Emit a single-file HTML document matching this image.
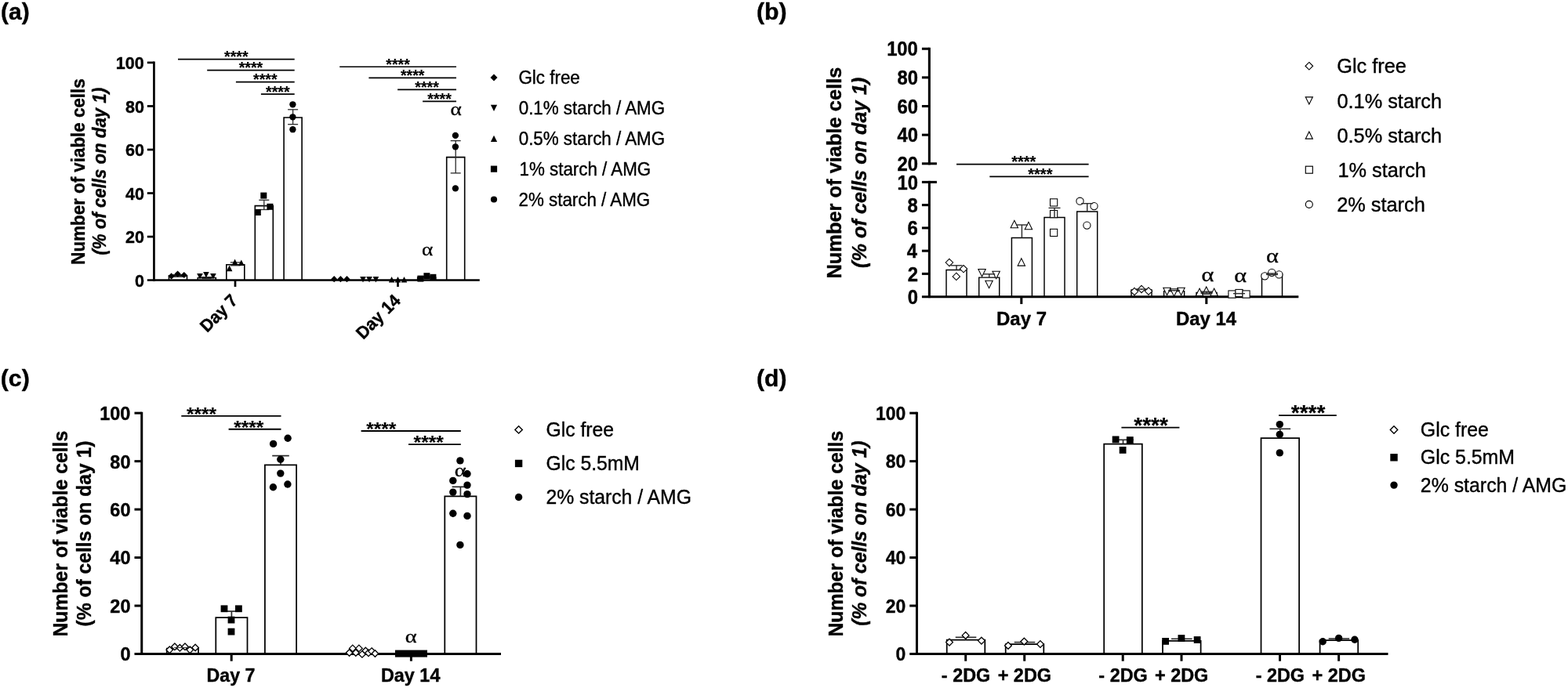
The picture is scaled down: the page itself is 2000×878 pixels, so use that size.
<!DOCTYPE html>
<html lang="en">
<head>
<meta charset="utf-8">
<title>Figure</title>
<style>
html,body{margin:0;padding:0;background:#fff;}
body{width:2000px;height:878px;overflow:hidden;}
svg{display:block;}
text{fill:#000;white-space:pre;}
.ss{font-family:'Liberation Sans',sans-serif;}
.sf{font-family:'Liberation Serif',serif;}
.b{font-weight:bold;}
.n{font-weight:normal;}
</style>
</head>
<body>
<svg width="2000" height="878" viewBox="0 0 2000 878" role="img" aria-label="Number of viable cells bar charts, panels a to d">
<rect x="0" y="0" width="2000" height="878" fill="#fff"/>
<text class="ss b" font-size="29.3" stroke="#000" stroke-width="0.4" stroke-linejoin="round" transform="translate(1.1 24.6) scale(1.0239 1)">(a)</text>
<text class="ss b" font-size="29.3" stroke="#000" stroke-width="0.4" stroke-linejoin="round" transform="translate(964.89 24.8) scale(1.0341 1)">(b)</text>
<text class="ss b" font-size="29" stroke="#000" stroke-width="0.4" stroke-linejoin="round" transform="translate(0.68 493.1) scale(1.0468 1)">(c)</text>
<text class="ss b" font-size="29" stroke="#000" stroke-width="0.4" stroke-linejoin="round" transform="translate(965.1 493.1) scale(1.0360 1)">(d)</text>
<line x1="196.45" y1="78.55" x2="196.45" y2="358.95" stroke="#000" stroke-width="2.7" stroke-linecap="butt"/>
<line x1="187.8" y1="357.6" x2="611.8" y2="357.6" stroke="#000" stroke-width="2.5" stroke-linecap="butt"/>
<text class="ss b" font-size="22.3" stroke="#000" stroke-width="0.4" stroke-linejoin="round" transform="translate(171.88 365.75) scale(0.9680 1)">0</text>
<line x1="187.8" y1="302.06" x2="196.45" y2="302.06" stroke="#000" stroke-width="2.7" stroke-linecap="butt"/>
<text class="ss b" font-size="22.3" stroke="#000" stroke-width="0.4" stroke-linejoin="round" transform="translate(159.9 310.21) scale(0.9680 1)">20</text>
<line x1="187.8" y1="246.52" x2="196.45" y2="246.52" stroke="#000" stroke-width="2.7" stroke-linecap="butt"/>
<text class="ss b" font-size="22.3" stroke="#000" stroke-width="0.4" stroke-linejoin="round" transform="translate(159.9 254.67) scale(0.9680 1)">40</text>
<line x1="187.8" y1="190.98" x2="196.45" y2="190.98" stroke="#000" stroke-width="2.7" stroke-linecap="butt"/>
<text class="ss b" font-size="22.3" stroke="#000" stroke-width="0.4" stroke-linejoin="round" transform="translate(159.9 199.13) scale(0.9680 1)">60</text>
<line x1="187.8" y1="135.44" x2="196.45" y2="135.44" stroke="#000" stroke-width="2.7" stroke-linecap="butt"/>
<text class="ss b" font-size="22.3" stroke="#000" stroke-width="0.4" stroke-linejoin="round" transform="translate(159.9 143.59) scale(0.9680 1)">80</text>
<line x1="187.8" y1="79.9" x2="196.45" y2="79.9" stroke="#000" stroke-width="2.7" stroke-linecap="butt"/>
<text class="ss b" font-size="22.3" stroke="#000" stroke-width="0.4" stroke-linejoin="round" transform="translate(147.81 88.05) scale(0.9680 1)">100</text>
<line x1="300" y1="357.6" x2="300" y2="366" stroke="#000" stroke-width="2.7" stroke-linecap="butt"/>
<line x1="507.5" y1="357.6" x2="507.5" y2="366" stroke="#000" stroke-width="2.7" stroke-linecap="butt"/>
<text class="ss b" font-size="23.4" stroke="#000" stroke-width="0.4" stroke-linejoin="round" transform="translate(107.9 337.65) rotate(-90) scale(0.9566 1)">Number of viable cells</text>
<text class="ss b" font-size="23.4" font-style="italic" stroke="#000" stroke-width="0.4" stroke-linejoin="round" transform="translate(135.3 325.58) rotate(-90) scale(0.9502 1)">(% of cells on day 1)</text>
<text class="ss b" font-size="22.3" stroke="#000" stroke-width="0.4" stroke-linejoin="round" transform="translate(264.22 425.08) rotate(-45) scale(0.9550 1)">Day 7</text>
<text class="ss b" font-size="22.3" stroke="#000" stroke-width="0.4" stroke-linejoin="round" transform="translate(463.13 433.97) rotate(-45) scale(0.9650 1)">Day 14</text>
<path d="M215.5 357.6V351.9H238.5V357.6" fill="none" stroke="#000" stroke-width="1.6" stroke-linejoin="miter"/>
<path d="M252.3 357.6V354.5H275.3V357.6" fill="none" stroke="#000" stroke-width="1.6" stroke-linejoin="miter"/>
<path d="M288.8 357.6V337.8H311.8V357.6" fill="none" stroke="#000" stroke-width="1.6" stroke-linejoin="miter"/>
<path d="M325.3 357.6V262.6H348.3V357.6" fill="none" stroke="#000" stroke-width="1.6" stroke-linejoin="miter"/>
<path d="M362.1 357.6V150H385.1V357.6" fill="none" stroke="#000" stroke-width="1.6" stroke-linejoin="miter"/>
<path d="M569.7 357.6V200.6H592.7V357.6" fill="none" stroke="#000" stroke-width="1.6" stroke-linejoin="miter"/>
<path d="M532.7 357.6V354H555.7V357.6" fill="none" stroke="#000" stroke-width="1.6" stroke-linejoin="miter"/>
<line x1="220.5" y1="350.6" x2="233.5" y2="350.6" stroke="#2a2a2a" stroke-width="1.3" stroke-linecap="butt"/>
<line x1="227" y1="350.6" x2="227" y2="353.2" stroke="#2a2a2a" stroke-width="1.3" stroke-linecap="butt"/>
<line x1="220.5" y1="353.2" x2="233.5" y2="353.2" stroke="#2a2a2a" stroke-width="1.3" stroke-linecap="butt"/>
<line x1="257.3" y1="353.6" x2="270.3" y2="353.6" stroke="#2a2a2a" stroke-width="1.3" stroke-linecap="butt"/>
<line x1="263.8" y1="353.6" x2="263.8" y2="355.4" stroke="#2a2a2a" stroke-width="1.3" stroke-linecap="butt"/>
<line x1="257.3" y1="355.4" x2="270.3" y2="355.4" stroke="#2a2a2a" stroke-width="1.3" stroke-linecap="butt"/>
<line x1="293.8" y1="334.9" x2="306.8" y2="334.9" stroke="#2a2a2a" stroke-width="1.3" stroke-linecap="butt"/>
<line x1="300.3" y1="334.9" x2="300.3" y2="338.8" stroke="#2a2a2a" stroke-width="1.3" stroke-linecap="butt"/>
<line x1="293.8" y1="338.8" x2="306.8" y2="338.8" stroke="#2a2a2a" stroke-width="1.3" stroke-linecap="butt"/>
<line x1="330.3" y1="255.3" x2="343.3" y2="255.3" stroke="#2a2a2a" stroke-width="1.3" stroke-linecap="butt"/>
<line x1="336.8" y1="255.3" x2="336.8" y2="267.5" stroke="#2a2a2a" stroke-width="1.3" stroke-linecap="butt"/>
<line x1="330.3" y1="267.5" x2="343.3" y2="267.5" stroke="#2a2a2a" stroke-width="1.3" stroke-linecap="butt"/>
<line x1="367.1" y1="139.8" x2="380.1" y2="139.8" stroke="#2a2a2a" stroke-width="1.3" stroke-linecap="butt"/>
<line x1="373.6" y1="139.8" x2="373.6" y2="158.7" stroke="#2a2a2a" stroke-width="1.3" stroke-linecap="butt"/>
<line x1="367.1" y1="158.7" x2="380.1" y2="158.7" stroke="#2a2a2a" stroke-width="1.3" stroke-linecap="butt"/>
<line x1="574.7" y1="179.6" x2="587.7" y2="179.6" stroke="#2a2a2a" stroke-width="1.3" stroke-linecap="butt"/>
<line x1="581.2" y1="179.6" x2="581.2" y2="220.9" stroke="#2a2a2a" stroke-width="1.3" stroke-linecap="butt"/>
<line x1="574.7" y1="220.9" x2="587.7" y2="220.9" stroke="#2a2a2a" stroke-width="1.3" stroke-linecap="butt"/>
<line x1="537.7" y1="352.6" x2="550.7" y2="352.6" stroke="#2a2a2a" stroke-width="1.3" stroke-linecap="butt"/>
<line x1="544.2" y1="352.6" x2="544.2" y2="355" stroke="#2a2a2a" stroke-width="1.3" stroke-linecap="butt"/>
<line x1="537.7" y1="355" x2="550.7" y2="355" stroke="#2a2a2a" stroke-width="1.3" stroke-linecap="butt"/>
<path d="M218.6 348.3L222.7 352.4L218.6 356.5L214.5 352.4Z" fill="#000"/>
<path d="M226.6 345.4L230.7 349.5L226.6 353.6L222.5 349.5Z" fill="#000"/>
<path d="M234.8 346.9L238.9 351L234.8 355.1L230.7 351Z" fill="#000"/>
<path d="M255 356.6L258.8 349L251.2 349Z" fill="#000"/>
<path d="M262.9 354.6L266.7 347L259.1 347Z" fill="#000"/>
<path d="M271.9 356.6L275.7 349L268.1 349Z" fill="#000"/>
<path d="M292.6 338.6L296.4 346.2L288.8 346.2Z" fill="#000"/>
<path d="M299.6 330.6L303.4 338.2L295.8 338.2Z" fill="#000"/>
<path d="M307.8 331.4L311.6 339L304 339Z" fill="#000"/>
<rect x="332.3" y="245.6" width="8" height="8" fill="#000"/>
<rect x="340.4" y="259.8" width="8" height="8" fill="#000"/>
<rect x="324.8" y="267" width="8" height="8" fill="#000"/>
<circle cx="373.4" cy="133.3" r="4.15" fill="#000"/>
<circle cx="373.4" cy="149.3" r="4.15" fill="#000"/>
<circle cx="373.4" cy="165.2" r="4.15" fill="#000"/>
<path d="M426.2 352.1L430.3 356.2L426.2 360.3L422.1 356.2Z" fill="#000"/>
<path d="M434.4 352.1L438.5 356.2L434.4 360.3L430.3 356.2Z" fill="#000"/>
<path d="M442.5 352.1L446.6 356.2L442.5 360.3L438.4 356.2Z" fill="#000"/>
<path d="M463 360.6L466.8 353L459.2 353Z" fill="#000"/>
<path d="M471 360.6L474.8 353L467.2 353Z" fill="#000"/>
<path d="M479.4 360.6L483.2 353L475.6 353Z" fill="#000"/>
<path d="M499.6 353L503.4 360.6L495.8 360.6Z" fill="#000"/>
<path d="M507.5 353L511.3 360.6L503.7 360.6Z" fill="#000"/>
<path d="M515.5 353L519.3 360.6L511.7 360.6Z" fill="#000"/>
<rect x="532.4" y="351.6" width="8" height="8" fill="#000"/>
<rect x="540.4" y="348.2" width="8" height="8" fill="#000"/>
<rect x="548.4" y="349.8" width="8" height="8" fill="#000"/>
<circle cx="580.9" cy="172.9" r="4.15" fill="#000"/>
<circle cx="580.9" cy="187.3" r="4.15" fill="#000"/>
<circle cx="580.9" cy="240.4" r="4.15" fill="#000"/>
<text class="sf n" font-size="22.66" stroke="#000" stroke-width="0.3" stroke-linejoin="round" transform="translate(537.88 326.2) scale(1.2000 1)">α</text>
<text class="sf n" font-size="22.66" stroke="#000" stroke-width="0.3" stroke-linejoin="round" transform="translate(574.58 146.6) scale(1.2000 1)">α</text>
<line x1="227" y1="75.55" x2="375.7" y2="75.55" stroke="#000" stroke-width="1.7" stroke-linecap="butt"/>
<text class="ss b" font-size="19.6" stroke="#000" stroke-width="0.15" stroke-linejoin="round" transform="translate(286.09 79.2)">****</text>
<line x1="264.2" y1="89.55" x2="375.7" y2="89.55" stroke="#000" stroke-width="1.7" stroke-linecap="butt"/>
<text class="ss b" font-size="19.6" stroke="#000" stroke-width="0.15" stroke-linejoin="round" transform="translate(304.69 93.2)">****</text>
<line x1="300.9" y1="104.65" x2="375.7" y2="104.65" stroke="#000" stroke-width="1.7" stroke-linecap="butt"/>
<text class="ss b" font-size="19.6" stroke="#000" stroke-width="0.15" stroke-linejoin="round" transform="translate(323.04 108.3)">****</text>
<line x1="332.9" y1="120.15" x2="375.7" y2="120.15" stroke="#000" stroke-width="1.7" stroke-linecap="butt"/>
<text class="ss b" font-size="19.6" stroke="#000" stroke-width="0.15" stroke-linejoin="round" transform="translate(339.04 123.8)">****</text>
<line x1="433.2" y1="85.25" x2="582" y2="85.25" stroke="#000" stroke-width="1.7" stroke-linecap="butt"/>
<text class="ss b" font-size="19.6" stroke="#000" stroke-width="0.15" stroke-linejoin="round" transform="translate(492.34 88.9)">****</text>
<line x1="470.4" y1="99.35" x2="582" y2="99.35" stroke="#000" stroke-width="1.7" stroke-linecap="butt"/>
<text class="ss b" font-size="19.6" stroke="#000" stroke-width="0.15" stroke-linejoin="round" transform="translate(510.94 103)">****</text>
<line x1="507.1" y1="114.35" x2="582" y2="114.35" stroke="#000" stroke-width="1.7" stroke-linecap="butt"/>
<text class="ss b" font-size="19.6" stroke="#000" stroke-width="0.15" stroke-linejoin="round" transform="translate(529.29 118)">****</text>
<line x1="539.1" y1="129.45" x2="582" y2="129.45" stroke="#000" stroke-width="1.7" stroke-linecap="butt"/>
<text class="ss b" font-size="19.6" stroke="#000" stroke-width="0.15" stroke-linejoin="round" transform="translate(545.29 133.1)">****</text>
<path d="M630 94.6L634.5 99.1L630 103.6L625.5 99.1Z" fill="#000"/>
<text class="ss n" font-size="23.8" stroke="#000" stroke-width="0.4" stroke-linejoin="round" transform="translate(661.48 107.4) scale(0.9400 1)">Glc free</text>
<path d="M630 142.05L634.1 133.85L625.9 133.85Z" fill="#000"/>
<text class="ss n" font-size="23.8" stroke="#000" stroke-width="0.4" stroke-linejoin="round" transform="translate(661.71 146.25) scale(0.9400 1)">0.1% starch / AMG</text>
<path d="M630 172.7L634.1 180.9L625.9 180.9Z" fill="#000"/>
<text class="ss n" font-size="23.8" stroke="#000" stroke-width="0.4" stroke-linejoin="round" transform="translate(661.71 185.1) scale(0.9400 1)">0.5% starch / AMG</text>
<rect x="625.9" y="211.55" width="8.2" height="8.2" fill="#000"/>
<text class="ss n" font-size="23.8" stroke="#000" stroke-width="0.4" stroke-linejoin="round" transform="translate(662.52 223.95) scale(0.9400 1)">1% starch / AMG</text>
<circle cx="630" cy="254.5" r="4.1" fill="#000"/>
<text class="ss n" font-size="23.8" stroke="#000" stroke-width="0.4" stroke-linejoin="round" transform="translate(661.48 262.8) scale(0.9400 1)">2% starch / AMG</text>
<line x1="1185.35" y1="230.88" x2="1185.35" y2="380.17" stroke="#000" stroke-width="3.05" stroke-linecap="butt"/>
<line x1="1175.9" y1="378.65" x2="1656.3" y2="378.65" stroke="#000" stroke-width="3.05" stroke-linecap="butt"/>
<line x1="1185.35" y1="60.73" x2="1185.35" y2="210.33" stroke="#000" stroke-width="3.05" stroke-linecap="butt"/>
<text class="ss b" font-size="24.9" stroke="#000" stroke-width="0.4" stroke-linejoin="round" transform="translate(1157.65 387.75) scale(0.9550 1)">0</text>
<line x1="1175.9" y1="349.4" x2="1185.35" y2="349.4" stroke="#000" stroke-width="3.05" stroke-linecap="butt"/>
<text class="ss b" font-size="24.9" stroke="#000" stroke-width="0.4" stroke-linejoin="round" transform="translate(1157.65 358.5) scale(0.9550 1)">2</text>
<line x1="1175.9" y1="320.15" x2="1185.35" y2="320.15" stroke="#000" stroke-width="3.05" stroke-linecap="butt"/>
<text class="ss b" font-size="24.9" stroke="#000" stroke-width="0.4" stroke-linejoin="round" transform="translate(1156.82 329.25) scale(0.9550 1)">4</text>
<line x1="1175.9" y1="290.9" x2="1185.35" y2="290.9" stroke="#000" stroke-width="3.05" stroke-linecap="butt"/>
<text class="ss b" font-size="24.9" stroke="#000" stroke-width="0.4" stroke-linejoin="round" transform="translate(1157.53 300) scale(0.9550 1)">6</text>
<line x1="1175.9" y1="261.65" x2="1185.35" y2="261.65" stroke="#000" stroke-width="3.05" stroke-linecap="butt"/>
<text class="ss b" font-size="24.9" stroke="#000" stroke-width="0.4" stroke-linejoin="round" transform="translate(1157.42 270.75) scale(0.9550 1)">8</text>
<line x1="1175.9" y1="232.4" x2="1194.9" y2="232.4" stroke="#000" stroke-width="3.05" stroke-linecap="butt"/>
<text class="ss b" font-size="24.9" stroke="#000" stroke-width="0.4" stroke-linejoin="round" transform="translate(1144.46 241.5) scale(0.9550 1)">10</text>
<line x1="1175.9" y1="208.8" x2="1194.9" y2="208.8" stroke="#000" stroke-width="3.05" stroke-linecap="butt"/>
<text class="ss b" font-size="24.9" stroke="#000" stroke-width="0.4" stroke-linejoin="round" transform="translate(1144.46 217.9) scale(0.9550 1)">20</text>
<line x1="1175.9" y1="172.16" x2="1185.35" y2="172.16" stroke="#000" stroke-width="3.05" stroke-linecap="butt"/>
<text class="ss b" font-size="24.9" stroke="#000" stroke-width="0.4" stroke-linejoin="round" transform="translate(1144.46 181.26) scale(0.9550 1)">40</text>
<line x1="1175.9" y1="135.53" x2="1185.35" y2="135.53" stroke="#000" stroke-width="3.05" stroke-linecap="butt"/>
<text class="ss b" font-size="24.9" stroke="#000" stroke-width="0.4" stroke-linejoin="round" transform="translate(1144.46 144.62) scale(0.9550 1)">60</text>
<line x1="1175.9" y1="98.89" x2="1185.35" y2="98.89" stroke="#000" stroke-width="3.05" stroke-linecap="butt"/>
<text class="ss b" font-size="24.9" stroke="#000" stroke-width="0.4" stroke-linejoin="round" transform="translate(1144.46 107.99) scale(0.9550 1)">80</text>
<line x1="1175.9" y1="62.25" x2="1185.35" y2="62.25" stroke="#000" stroke-width="3.05" stroke-linecap="butt"/>
<text class="ss b" font-size="24.9" stroke="#000" stroke-width="0.4" stroke-linejoin="round" transform="translate(1131.14 71.35) scale(0.9550 1)">100</text>
<line x1="1302.8" y1="378.65" x2="1302.8" y2="388.05" stroke="#000" stroke-width="3.05" stroke-linecap="butt"/>
<line x1="1538.8" y1="378.65" x2="1538.8" y2="388.05" stroke="#000" stroke-width="3.05" stroke-linecap="butt"/>
<text class="ss b" font-size="24.8" stroke="#000" stroke-width="0.4" stroke-linejoin="round" transform="translate(1271.04 415.45) scale(0.9671 1)">Day 7</text>
<text class="ss b" font-size="24.8" stroke="#000" stroke-width="0.4" stroke-linejoin="round" transform="translate(1500.05 415.45) scale(0.9637 1)">Day 14</text>
<text class="ss b" font-size="26.6" stroke="#000" stroke-width="0.4" stroke-linejoin="round" transform="translate(1073.3 355.6) rotate(-90) scale(0.9570 1)">Number of viable cells</text>
<text class="ss b" font-size="26.6" font-style="italic" stroke="#000" stroke-width="0.4" stroke-linejoin="round" transform="translate(1104.5 341.89) rotate(-90) scale(0.9511 1)">(% of cells on day 1)</text>
<path d="M1207 378.65V344.4H1233V378.65" fill="none" stroke="#000" stroke-width="1.45" stroke-linejoin="miter"/>
<path d="M1248.7 378.65V354.1H1274.7V378.65" fill="none" stroke="#000" stroke-width="1.45" stroke-linejoin="miter"/>
<path d="M1290.4 378.65V303.5H1316.4V378.65" fill="none" stroke="#000" stroke-width="1.45" stroke-linejoin="miter"/>
<path d="M1332 378.65V277.4H1358V378.65" fill="none" stroke="#000" stroke-width="1.45" stroke-linejoin="miter"/>
<path d="M1373.7 378.65V269.9H1399.7V378.65" fill="none" stroke="#000" stroke-width="1.45" stroke-linejoin="miter"/>
<path d="M1443 378.65V370H1469V378.65" fill="none" stroke="#000" stroke-width="1.45" stroke-linejoin="miter"/>
<path d="M1484.6 378.65V371.6H1510.6V378.65" fill="none" stroke="#000" stroke-width="1.45" stroke-linejoin="miter"/>
<path d="M1526 378.65V373.4H1552V378.65" fill="none" stroke="#000" stroke-width="1.45" stroke-linejoin="miter"/>
<path d="M1567.5 378.65V374.6H1593.5V378.65" fill="none" stroke="#000" stroke-width="1.45" stroke-linejoin="miter"/>
<path d="M1609.5 378.65V349.8H1635.5V378.65" fill="none" stroke="#000" stroke-width="1.45" stroke-linejoin="miter"/>
<path d="M1210.9 330.3L1215.6 335L1210.9 339.7L1206.2 335Z" fill="#fff" stroke="#000" stroke-width="1.05" stroke-linejoin="miter"/>
<path d="M1229 338.4L1233.7 343.1L1229 347.8L1224.3 343.1Z" fill="#fff" stroke="#000" stroke-width="1.05" stroke-linejoin="miter"/>
<path d="M1219.8 348.2L1224.5 352.9L1219.8 357.6L1215.1 352.9Z" fill="#fff" stroke="#000" stroke-width="1.05" stroke-linejoin="miter"/>
<path d="M1252.5 352.9L1257.2 343.5L1247.8 343.5Z" fill="#fff" stroke="#000" stroke-width="1.05" stroke-linejoin="miter"/>
<path d="M1270.6 355.7L1275.3 346.3L1265.9 346.3Z" fill="#fff" stroke="#000" stroke-width="1.05" stroke-linejoin="miter"/>
<path d="M1261.5 367.7L1266.2 358.3L1256.8 358.3Z" fill="#fff" stroke="#000" stroke-width="1.05" stroke-linejoin="miter"/>
<path d="M1293.8 281.3L1298.5 290.7L1289.1 290.7Z" fill="#fff" stroke="#000" stroke-width="1.05" stroke-linejoin="miter"/>
<path d="M1311.9 283.3L1316.6 292.7L1307.2 292.7Z" fill="#fff" stroke="#000" stroke-width="1.05" stroke-linejoin="miter"/>
<path d="M1302.8 329.7L1307.5 339.1L1298.1 339.1Z" fill="#fff" stroke="#000" stroke-width="1.05" stroke-linejoin="miter"/>
<rect x="1339.5" y="253.8" width="9.2" height="9.2" fill="#fff" stroke="#000" stroke-width="1.05" stroke-linejoin="miter"/>
<rect x="1339.5" y="268.5" width="9.2" height="9.2" fill="#fff" stroke="#000" stroke-width="1.05" stroke-linejoin="miter"/>
<rect x="1339.5" y="292.3" width="9.2" height="9.2" fill="#fff" stroke="#000" stroke-width="1.05" stroke-linejoin="miter"/>
<circle cx="1377.5" cy="256.7" r="4.6" fill="#fff" stroke="#000" stroke-width="1.05" stroke-linejoin="miter"/>
<circle cx="1395.5" cy="263.1" r="4.6" fill="#fff" stroke="#000" stroke-width="1.05" stroke-linejoin="miter"/>
<circle cx="1386.4" cy="287.6" r="4.6" fill="#fff" stroke="#000" stroke-width="1.05" stroke-linejoin="miter"/>
<path d="M1447 367.3L1451.7 372L1447 376.7L1442.3 372Z" fill="#fff" stroke="#000" stroke-width="1.05" stroke-linejoin="miter"/>
<path d="M1456 364.3L1460.7 369L1456 373.7L1451.3 369Z" fill="#fff" stroke="#000" stroke-width="1.05" stroke-linejoin="miter"/>
<path d="M1465 366.8L1469.7 371.5L1465 376.2L1460.3 371.5Z" fill="#fff" stroke="#000" stroke-width="1.05" stroke-linejoin="miter"/>
<path d="M1488.5 376.7L1493.2 367.3L1483.8 367.3Z" fill="#fff" stroke="#000" stroke-width="1.05" stroke-linejoin="miter"/>
<path d="M1497.5 378.2L1502.2 368.8L1492.8 368.8Z" fill="#fff" stroke="#000" stroke-width="1.05" stroke-linejoin="miter"/>
<path d="M1506.5 376.7L1511.2 367.3L1501.8 367.3Z" fill="#fff" stroke="#000" stroke-width="1.05" stroke-linejoin="miter"/>
<path d="M1530 368.1L1534.7 377.5L1525.3 377.5Z" fill="#fff" stroke="#000" stroke-width="1.05" stroke-linejoin="miter"/>
<path d="M1538.7 365.9L1543.4 375.3L1534 375.3Z" fill="#fff" stroke="#000" stroke-width="1.05" stroke-linejoin="miter"/>
<path d="M1548.6 368.1L1553.3 377.5L1543.9 377.5Z" fill="#fff" stroke="#000" stroke-width="1.05" stroke-linejoin="miter"/>
<rect x="1566.9" y="370.9" width="9.2" height="9.2" fill="#fff" stroke="#000" stroke-width="1.05" stroke-linejoin="miter"/>
<rect x="1575.9" y="369.4" width="9.2" height="9.2" fill="#fff" stroke="#000" stroke-width="1.05" stroke-linejoin="miter"/>
<rect x="1584.9" y="370.9" width="9.2" height="9.2" fill="#fff" stroke="#000" stroke-width="1.05" stroke-linejoin="miter"/>
<circle cx="1613.3" cy="352.3" r="4.6" fill="#fff" stroke="#000" stroke-width="1.05" stroke-linejoin="miter"/>
<circle cx="1622.2" cy="347.8" r="4.6" fill="#fff" stroke="#000" stroke-width="1.05" stroke-linejoin="miter"/>
<circle cx="1631.4" cy="350.4" r="4.6" fill="#fff" stroke="#000" stroke-width="1.05" stroke-linejoin="miter"/>
<line x1="1212.5" y1="338.8" x2="1227.5" y2="338.8" stroke="#2a2a2a" stroke-width="1.4" stroke-linecap="butt"/>
<line x1="1220" y1="338.8" x2="1220" y2="344.4" stroke="#2a2a2a" stroke-width="1.4" stroke-linecap="butt"/>
<line x1="1254.2" y1="349.8" x2="1269.2" y2="349.8" stroke="#2a2a2a" stroke-width="1.4" stroke-linecap="butt"/>
<line x1="1261.7" y1="349.8" x2="1261.7" y2="354.1" stroke="#2a2a2a" stroke-width="1.4" stroke-linecap="butt"/>
<line x1="1295.9" y1="287" x2="1310.9" y2="287" stroke="#2a2a2a" stroke-width="1.4" stroke-linecap="butt"/>
<line x1="1303.4" y1="287" x2="1303.4" y2="303.5" stroke="#2a2a2a" stroke-width="1.4" stroke-linecap="butt"/>
<line x1="1337.5" y1="265.4" x2="1352.5" y2="265.4" stroke="#2a2a2a" stroke-width="1.4" stroke-linecap="butt"/>
<line x1="1345" y1="265.4" x2="1345" y2="277.4" stroke="#2a2a2a" stroke-width="1.4" stroke-linecap="butt"/>
<line x1="1379.2" y1="259.7" x2="1394.2" y2="259.7" stroke="#2a2a2a" stroke-width="1.4" stroke-linecap="butt"/>
<line x1="1386.7" y1="259.7" x2="1386.7" y2="269.9" stroke="#2a2a2a" stroke-width="1.4" stroke-linecap="butt"/>
<line x1="1448.5" y1="369" x2="1463.5" y2="369" stroke="#2a2a2a" stroke-width="1.4" stroke-linecap="butt"/>
<line x1="1456" y1="369" x2="1456" y2="370" stroke="#2a2a2a" stroke-width="1.4" stroke-linecap="butt"/>
<line x1="1490.1" y1="370.6" x2="1505.1" y2="370.6" stroke="#2a2a2a" stroke-width="1.4" stroke-linecap="butt"/>
<line x1="1497.6" y1="370.6" x2="1497.6" y2="371.6" stroke="#2a2a2a" stroke-width="1.4" stroke-linecap="butt"/>
<line x1="1531.5" y1="372.2" x2="1546.5" y2="372.2" stroke="#2a2a2a" stroke-width="1.4" stroke-linecap="butt"/>
<line x1="1539" y1="372.2" x2="1539" y2="374" stroke="#2a2a2a" stroke-width="1.4" stroke-linecap="butt"/>
<line x1="1531.5" y1="374" x2="1546.5" y2="374" stroke="#2a2a2a" stroke-width="1.4" stroke-linecap="butt"/>
<line x1="1573" y1="374.6" x2="1588" y2="374.6" stroke="#2a2a2a" stroke-width="1.4" stroke-linecap="butt"/>
<line x1="1580.5" y1="374.6" x2="1580.5" y2="375" stroke="#2a2a2a" stroke-width="1.4" stroke-linecap="butt"/>
<line x1="1615" y1="349" x2="1630" y2="349" stroke="#2a2a2a" stroke-width="1.4" stroke-linecap="butt"/>
<line x1="1622.5" y1="349" x2="1622.5" y2="350.4" stroke="#2a2a2a" stroke-width="1.4" stroke-linecap="butt"/>
<line x1="1615" y1="350.4" x2="1630" y2="350.4" stroke="#2a2a2a" stroke-width="1.4" stroke-linecap="butt"/>
<text class="sf n" font-size="25.23" stroke="#000" stroke-width="0.3" stroke-linejoin="round" transform="translate(1532.47 358.6) scale(1.2000 1)">α</text>
<text class="sf n" font-size="25.23" stroke="#000" stroke-width="0.3" stroke-linejoin="round" transform="translate(1574.37 360.2) scale(1.2000 1)">α</text>
<text class="sf n" font-size="25.23" stroke="#000" stroke-width="0.3" stroke-linejoin="round" transform="translate(1614.97 334.6) scale(1.2000 1)">α</text>
<line x1="1220" y1="209.6" x2="1388.6" y2="209.6" stroke="#000" stroke-width="1.7" stroke-linecap="butt"/>
<text class="ss b" font-size="20" stroke="#000" stroke-width="0.15" stroke-linejoin="round" transform="translate(1290.13 212.9)">****</text>
<line x1="1262.3" y1="225.4" x2="1388.6" y2="225.4" stroke="#000" stroke-width="1.7" stroke-linecap="butt"/>
<text class="ss b" font-size="20" stroke="#000" stroke-width="0.15" stroke-linejoin="round" transform="translate(1311.28 228.7)">****</text>
<path d="M1669.8 79.45L1674.6 84.25L1669.8 89.05L1665 84.25Z" fill="#fff" stroke="#000" stroke-width="1.15" stroke-linejoin="miter"/>
<text class="ss n" font-size="26.5" stroke="#000" stroke-width="0.4" stroke-linejoin="round" transform="translate(1705.23 93.35) scale(0.9550 1)">Glc free</text>
<path d="M1669.8 132.9L1674.3 123.9L1665.3 123.9Z" fill="#fff" stroke="#000" stroke-width="1.15" stroke-linejoin="miter"/>
<text class="ss n" font-size="26.5" stroke="#000" stroke-width="0.4" stroke-linejoin="round" transform="translate(1705.49 137.5) scale(0.9550 1)">0.1% starch</text>
<path d="M1669.8 168.05L1674.3 177.05L1665.3 177.05Z" fill="#fff" stroke="#000" stroke-width="1.15" stroke-linejoin="miter"/>
<text class="ss n" font-size="26.5" stroke="#000" stroke-width="0.4" stroke-linejoin="round" transform="translate(1705.49 181.65) scale(0.9550 1)">0.5% starch</text>
<rect x="1665.3" y="212.2" width="9" height="9" fill="#fff" stroke="#000" stroke-width="1.15" stroke-linejoin="miter"/>
<text class="ss n" font-size="26.5" stroke="#000" stroke-width="0.4" stroke-linejoin="round" transform="translate(1706.4 225.8) scale(0.9550 1)">1% starch</text>
<circle cx="1669.8" cy="260.85" r="4.5" fill="#fff" stroke="#000" stroke-width="1.15" stroke-linejoin="miter"/>
<text class="ss n" font-size="26.5" stroke="#000" stroke-width="0.4" stroke-linejoin="round" transform="translate(1705.23 269.95) scale(0.9550 1)">2% starch</text>
<line x1="180.75" y1="525.65" x2="180.75" y2="836" stroke="#000" stroke-width="3" stroke-linecap="butt"/>
<line x1="171.5" y1="834.5" x2="639" y2="834.5" stroke="#000" stroke-width="3" stroke-linecap="butt"/>
<text class="ss b" font-size="24.3" stroke="#000" stroke-width="0.4" stroke-linejoin="round" transform="translate(153.39 843.4) scale(0.9680 1)">0</text>
<line x1="171.5" y1="773.03" x2="180.75" y2="773.03" stroke="#000" stroke-width="3" stroke-linecap="butt"/>
<text class="ss b" font-size="24.3" stroke="#000" stroke-width="0.4" stroke-linejoin="round" transform="translate(140.33 781.93) scale(0.9680 1)">20</text>
<line x1="171.5" y1="711.56" x2="180.75" y2="711.56" stroke="#000" stroke-width="3" stroke-linecap="butt"/>
<text class="ss b" font-size="24.3" stroke="#000" stroke-width="0.4" stroke-linejoin="round" transform="translate(140.33 720.46) scale(0.9680 1)">40</text>
<line x1="171.5" y1="650.09" x2="180.75" y2="650.09" stroke="#000" stroke-width="3" stroke-linecap="butt"/>
<text class="ss b" font-size="24.3" stroke="#000" stroke-width="0.4" stroke-linejoin="round" transform="translate(140.33 658.99) scale(0.9680 1)">60</text>
<line x1="171.5" y1="588.62" x2="180.75" y2="588.62" stroke="#000" stroke-width="3" stroke-linecap="butt"/>
<text class="ss b" font-size="24.3" stroke="#000" stroke-width="0.4" stroke-linejoin="round" transform="translate(140.33 597.52) scale(0.9680 1)">80</text>
<line x1="171.5" y1="527.15" x2="180.75" y2="527.15" stroke="#000" stroke-width="3" stroke-linecap="butt"/>
<text class="ss b" font-size="24.3" stroke="#000" stroke-width="0.4" stroke-linejoin="round" transform="translate(127.16 536.05) scale(0.9680 1)">100</text>
<line x1="295.2" y1="834.5" x2="295.2" y2="843.7" stroke="#000" stroke-width="3" stroke-linecap="butt"/>
<line x1="524.4" y1="834.5" x2="524.4" y2="843.7" stroke="#000" stroke-width="3" stroke-linecap="butt"/>
<text class="ss b" font-size="24.7" stroke="#000" stroke-width="0.4" stroke-linejoin="round" transform="translate(263.49 869.9) scale(0.9394 1)">Day 7</text>
<text class="ss b" font-size="24.7" stroke="#000" stroke-width="0.4" stroke-linejoin="round" transform="translate(485.98 869.9) scale(0.9470 1)">Day 14</text>
<text class="ss b" font-size="25.9" stroke="#000" stroke-width="0.4" stroke-linejoin="round" transform="translate(86.2 812.51) rotate(-90) scale(0.9563 1)">Number of viable cells</text>
<text class="ss b" font-size="25.9" stroke="#000" stroke-width="0.4" stroke-linejoin="round" transform="translate(116.4 799.48) rotate(-90) scale(0.9522 1)">(% of cells on day 1)</text>
<path d="M212.8 834.5V827.6H253V834.5" fill="none" stroke="#000" stroke-width="1.75" stroke-linejoin="miter"/>
<path d="M275.3 834.5V788H315.5V834.5" fill="none" stroke="#000" stroke-width="1.75" stroke-linejoin="miter"/>
<path d="M337.9 834.5V593.3H378.1V834.5" fill="none" stroke="#000" stroke-width="1.75" stroke-linejoin="miter"/>
<path d="M567.3 834.5V633.4H607.5V834.5" fill="none" stroke="#000" stroke-width="1.75" stroke-linejoin="miter"/>
<line x1="284.6" y1="780.1" x2="306.2" y2="780.1" stroke="#2a2a2a" stroke-width="1.7" stroke-linecap="butt"/>
<line x1="295.4" y1="780.1" x2="295.4" y2="788" stroke="#2a2a2a" stroke-width="1.7" stroke-linecap="butt"/>
<line x1="347.2" y1="581.6" x2="368.8" y2="581.6" stroke="#2a2a2a" stroke-width="1.7" stroke-linecap="butt"/>
<line x1="358" y1="581.6" x2="358" y2="593.3" stroke="#2a2a2a" stroke-width="1.7" stroke-linecap="butt"/>
<line x1="576.6" y1="621.3" x2="598.2" y2="621.3" stroke="#2a2a2a" stroke-width="1.7" stroke-linecap="butt"/>
<line x1="587.4" y1="621.3" x2="587.4" y2="633.4" stroke="#2a2a2a" stroke-width="1.7" stroke-linecap="butt"/>
<path d="M216.3 825L220.6 829.3L216.3 833.6L212 829.3Z" fill="#fff" stroke="#000" stroke-width="1.3" stroke-linejoin="miter"/>
<path d="M222.9 821L227.2 825.3L222.9 829.6L218.6 825.3Z" fill="#fff" stroke="#000" stroke-width="1.3" stroke-linejoin="miter"/>
<path d="M229.4 822.5L233.7 826.8L229.4 831.1L225.1 826.8Z" fill="#fff" stroke="#000" stroke-width="1.3" stroke-linejoin="miter"/>
<path d="M236 821L240.3 825.3L236 829.6L231.7 825.3Z" fill="#fff" stroke="#000" stroke-width="1.3" stroke-linejoin="miter"/>
<path d="M242.3 825L246.6 829.3L242.3 833.6L238 829.3Z" fill="#fff" stroke="#000" stroke-width="1.3" stroke-linejoin="miter"/>
<path d="M249.1 822.2L253.4 826.5L249.1 830.8L244.8 826.5Z" fill="#fff" stroke="#000" stroke-width="1.3" stroke-linejoin="miter"/>
<line x1="222.1" y1="826.4" x2="243.7" y2="826.4" stroke="#2a2a2a" stroke-width="1" stroke-linecap="butt"/>
<line x1="232.9" y1="826.4" x2="232.9" y2="827.6" stroke="#2a2a2a" stroke-width="1" stroke-linecap="butt"/>
<rect x="281.6" y="772.4" width="8.8" height="8.8" fill="#000"/>
<rect x="300" y="772.4" width="8.8" height="8.8" fill="#000"/>
<rect x="290.6" y="786.7" width="8.8" height="8.8" fill="#000"/>
<rect x="290.6" y="801.7" width="8.8" height="8.8" fill="#000"/>
<circle cx="367.1" cy="559.2" r="4.7" fill="#000"/>
<circle cx="348.6" cy="566.4" r="4.7" fill="#000"/>
<circle cx="357.8" cy="586.2" r="4.7" fill="#000"/>
<circle cx="357.8" cy="604.1" r="4.7" fill="#000"/>
<circle cx="366.9" cy="618" r="4.7" fill="#000"/>
<circle cx="348.4" cy="621.7" r="4.7" fill="#000"/>
<path d="M445.6 828.7L449.9 833L445.6 837.3L441.3 833Z" fill="#fff" stroke="#000" stroke-width="1.3" stroke-linejoin="miter"/>
<path d="M449.8 823.1L454.1 827.4L449.8 831.7L445.5 827.4Z" fill="#fff" stroke="#000" stroke-width="1.3" stroke-linejoin="miter"/>
<path d="M453.8 828.7L458.1 833L453.8 837.3L449.5 833Z" fill="#fff" stroke="#000" stroke-width="1.3" stroke-linejoin="miter"/>
<path d="M457.9 823.1L462.2 827.4L457.9 831.7L453.6 827.4Z" fill="#fff" stroke="#000" stroke-width="1.3" stroke-linejoin="miter"/>
<path d="M461.9 830.6L466.2 834.9L461.9 839.2L457.6 834.9Z" fill="#fff" stroke="#000" stroke-width="1.3" stroke-linejoin="miter"/>
<path d="M466.3 826.2L470.6 830.5L466.3 834.8L462 830.5Z" fill="#fff" stroke="#000" stroke-width="1.3" stroke-linejoin="miter"/>
<path d="M470 829L474.3 833.3L470 837.6L465.7 833.3Z" fill="#fff" stroke="#000" stroke-width="1.3" stroke-linejoin="miter"/>
<path d="M474.1 826.8L478.4 831.1L474.1 835.4L469.8 831.1Z" fill="#fff" stroke="#000" stroke-width="1.3" stroke-linejoin="miter"/>
<path d="M478.4 829.7L482.7 834L478.4 838.3L474.1 834Z" fill="#fff" stroke="#000" stroke-width="1.3" stroke-linejoin="miter"/>
<rect x="504" y="829.6" width="41" height="9" fill="#000"/>
<circle cx="586.9" cy="587.9" r="4.7" fill="#000"/>
<circle cx="596" cy="604.7" r="4.7" fill="#000"/>
<circle cx="577.8" cy="613.4" r="4.7" fill="#000"/>
<circle cx="596" cy="619.1" r="4.7" fill="#000"/>
<circle cx="577.8" cy="628.1" r="4.7" fill="#000"/>
<circle cx="596" cy="630.6" r="4.7" fill="#000"/>
<circle cx="577.8" cy="655.3" r="4.7" fill="#000"/>
<circle cx="596" cy="658.4" r="4.7" fill="#000"/>
<circle cx="586.9" cy="695.4" r="4.7" fill="#000"/>
<text class="sf n" font-size="23.69" stroke="#000" stroke-width="0.3" stroke-linejoin="round" transform="translate(516.75 819.6) scale(1.2000 1)">α</text>
<text class="sf n" font-size="23.69" stroke="#000" stroke-width="0.3" stroke-linejoin="round" transform="translate(579.85 607.6) scale(1.2000 1)">α</text>
<line x1="231.3" y1="530.9" x2="358.5" y2="530.9" stroke="#000" stroke-width="1.9" stroke-linecap="butt"/>
<text class="ss b" font-size="24.5" stroke="#000" stroke-width="0.15" stroke-linejoin="round" transform="translate(237.9 536.6)">****</text>
<line x1="291.6" y1="547.8" x2="358.5" y2="547.8" stroke="#000" stroke-width="1.9" stroke-linecap="butt"/>
<text class="ss b" font-size="24.5" stroke="#000" stroke-width="0.15" stroke-linejoin="round" transform="translate(298.2 553.5)">****</text>
<line x1="460.6" y1="550" x2="587.8" y2="550" stroke="#000" stroke-width="1.9" stroke-linecap="butt"/>
<text class="ss b" font-size="24.5" stroke="#000" stroke-width="0.15" stroke-linejoin="round" transform="translate(467.2 555.7)">****</text>
<line x1="521" y1="567.1" x2="587.8" y2="567.1" stroke="#000" stroke-width="1.9" stroke-linecap="butt"/>
<text class="ss b" font-size="24.5" stroke="#000" stroke-width="0.15" stroke-linejoin="round" transform="translate(527.6 572.8)">****</text>
<path d="M661.6 543.7L666.3 548.4L661.6 553.1L656.9 548.4Z" fill="#fff" stroke="#000" stroke-width="1.4" stroke-linejoin="miter"/>
<text class="ss n" font-size="26.3" stroke="#000" stroke-width="0.4" stroke-linejoin="round" transform="translate(696.46 557) scale(0.9400 1)">Glc free</text>
<rect x="656.9" y="586.75" width="9.4" height="9.4" fill="#000"/>
<text class="ss n" font-size="26.3" stroke="#000" stroke-width="0.4" stroke-linejoin="round" transform="translate(696.46 600.05) scale(0.9400 1)">Glc 5.5mM</text>
<circle cx="661.6" cy="634.5" r="4.7" fill="#000"/>
<text class="ss n" font-size="26.3" stroke="#000" stroke-width="0.4" stroke-linejoin="round" transform="translate(696.46 643.1) scale(0.9400 1)">2% starch / AMG</text>
<line x1="1169.45" y1="525.65" x2="1169.45" y2="836" stroke="#000" stroke-width="3" stroke-linecap="butt"/>
<line x1="1160.2" y1="834.5" x2="1770.5" y2="834.5" stroke="#000" stroke-width="3" stroke-linecap="butt"/>
<text class="ss b" font-size="24.3" stroke="#000" stroke-width="0.4" stroke-linejoin="round" transform="translate(1142.54 843.3) scale(0.9400 1)">0</text>
<line x1="1160.2" y1="773.03" x2="1169.45" y2="773.03" stroke="#000" stroke-width="3" stroke-linecap="butt"/>
<text class="ss b" font-size="24.3" stroke="#000" stroke-width="0.4" stroke-linejoin="round" transform="translate(1129.86 781.83) scale(0.9400 1)">20</text>
<line x1="1160.2" y1="711.56" x2="1169.45" y2="711.56" stroke="#000" stroke-width="3" stroke-linecap="butt"/>
<text class="ss b" font-size="24.3" stroke="#000" stroke-width="0.4" stroke-linejoin="round" transform="translate(1129.86 720.36) scale(0.9400 1)">40</text>
<line x1="1160.2" y1="650.09" x2="1169.45" y2="650.09" stroke="#000" stroke-width="3" stroke-linecap="butt"/>
<text class="ss b" font-size="24.3" stroke="#000" stroke-width="0.4" stroke-linejoin="round" transform="translate(1129.86 658.89) scale(0.9400 1)">60</text>
<line x1="1160.2" y1="588.62" x2="1169.45" y2="588.62" stroke="#000" stroke-width="3" stroke-linecap="butt"/>
<text class="ss b" font-size="24.3" stroke="#000" stroke-width="0.4" stroke-linejoin="round" transform="translate(1129.86 597.42) scale(0.9400 1)">80</text>
<line x1="1160.2" y1="527.15" x2="1169.45" y2="527.15" stroke="#000" stroke-width="3" stroke-linecap="butt"/>
<text class="ss b" font-size="24.3" stroke="#000" stroke-width="0.4" stroke-linejoin="round" transform="translate(1117.07 535.95) scale(0.9400 1)">100</text>
<line x1="1231.7" y1="834.5" x2="1231.7" y2="843.7" stroke="#000" stroke-width="3" stroke-linecap="butt"/>
<text class="ss b" font-size="24.2" stroke="#000" stroke-width="0.4" stroke-linejoin="round" transform="translate(1200.86 870.1) scale(0.9666 1)">- 2DG</text>
<line x1="1306.7" y1="834.5" x2="1306.7" y2="843.7" stroke="#000" stroke-width="3" stroke-linecap="butt"/>
<text class="ss b" font-size="24.2" stroke="#000" stroke-width="0.4" stroke-linejoin="round" transform="translate(1272.66 870.1) scale(0.9688 1)">+ 2DG</text>
<line x1="1432.2" y1="834.5" x2="1432.2" y2="843.7" stroke="#000" stroke-width="3" stroke-linecap="butt"/>
<text class="ss b" font-size="24.2" stroke="#000" stroke-width="0.4" stroke-linejoin="round" transform="translate(1401.36 870.1) scale(0.9666 1)">- 2DG</text>
<line x1="1507" y1="834.5" x2="1507" y2="843.7" stroke="#000" stroke-width="3" stroke-linecap="butt"/>
<text class="ss b" font-size="24.2" stroke="#000" stroke-width="0.4" stroke-linejoin="round" transform="translate(1472.96 870.1) scale(0.9688 1)">+ 2DG</text>
<line x1="1632.5" y1="834.5" x2="1632.5" y2="843.7" stroke="#000" stroke-width="3" stroke-linecap="butt"/>
<text class="ss b" font-size="24.2" stroke="#000" stroke-width="0.4" stroke-linejoin="round" transform="translate(1601.66 870.1) scale(0.9666 1)">- 2DG</text>
<line x1="1707.6" y1="834.5" x2="1707.6" y2="843.7" stroke="#000" stroke-width="3" stroke-linecap="butt"/>
<text class="ss b" font-size="24.2" stroke="#000" stroke-width="0.4" stroke-linejoin="round" transform="translate(1673.56 870.1) scale(0.9688 1)">+ 2DG</text>
<text class="ss b" font-size="25.9" stroke="#000" stroke-width="0.4" stroke-linejoin="round" transform="translate(1074.7 812.51) rotate(-90) scale(0.9563 1)">Number of viable cells</text>
<text class="ss b" font-size="25.9" font-style="italic" stroke="#000" stroke-width="0.4" stroke-linejoin="round" transform="translate(1105 798.76) rotate(-90) scale(0.9489 1)">(% of cells on day 1)</text>
<path d="M1207.7 834.5V816.7H1256.3V834.5" fill="none" stroke="#000" stroke-width="1.75" stroke-linejoin="miter"/>
<path d="M1282.7 834.5V822.2H1331.3V834.5" fill="none" stroke="#000" stroke-width="1.75" stroke-linejoin="miter"/>
<path d="M1408.2 834.5V566.6H1456.8V834.5" fill="none" stroke="#000" stroke-width="1.75" stroke-linejoin="miter"/>
<path d="M1483 834.5V817.8H1531.6V834.5" fill="none" stroke="#000" stroke-width="1.75" stroke-linejoin="miter"/>
<path d="M1608.5 834.5V559H1657.1V834.5" fill="none" stroke="#000" stroke-width="1.75" stroke-linejoin="miter"/>
<path d="M1683.6 834.5V817H1732.2V834.5" fill="none" stroke="#000" stroke-width="1.75" stroke-linejoin="miter"/>
<line x1="1218.7" y1="813.3" x2="1245.3" y2="813.3" stroke="#2a2a2a" stroke-width="1.6" stroke-linecap="butt"/>
<line x1="1232" y1="813.3" x2="1232" y2="816.5" stroke="#2a2a2a" stroke-width="1.6" stroke-linecap="butt"/>
<line x1="1293.7" y1="819.6" x2="1320.3" y2="819.6" stroke="#2a2a2a" stroke-width="1.6" stroke-linecap="butt"/>
<line x1="1307" y1="819.6" x2="1307" y2="822" stroke="#2a2a2a" stroke-width="1.6" stroke-linecap="butt"/>
<line x1="1419.2" y1="561.3" x2="1445.8" y2="561.3" stroke="#2a2a2a" stroke-width="1.6" stroke-linecap="butt"/>
<line x1="1432.5" y1="561.3" x2="1432.5" y2="566.3" stroke="#2a2a2a" stroke-width="1.6" stroke-linecap="butt"/>
<line x1="1494" y1="815.3" x2="1520.6" y2="815.3" stroke="#2a2a2a" stroke-width="1.6" stroke-linecap="butt"/>
<line x1="1507.3" y1="815.3" x2="1507.3" y2="817.6" stroke="#2a2a2a" stroke-width="1.6" stroke-linecap="butt"/>
<line x1="1619.5" y1="547.3" x2="1646.1" y2="547.3" stroke="#2a2a2a" stroke-width="1.6" stroke-linecap="butt"/>
<line x1="1632.8" y1="547.3" x2="1632.8" y2="558.4" stroke="#2a2a2a" stroke-width="1.6" stroke-linecap="butt"/>
<line x1="1694.6" y1="815" x2="1721.2" y2="815" stroke="#2a2a2a" stroke-width="1.6" stroke-linecap="butt"/>
<line x1="1707.9" y1="815" x2="1707.9" y2="816.9" stroke="#2a2a2a" stroke-width="1.6" stroke-linecap="butt"/>
<path d="M1211 815.2L1215.4 819.6L1211 824L1206.6 819.6Z" fill="#fff" stroke="#000" stroke-width="1.3" stroke-linejoin="miter"/>
<path d="M1231.6 806.5L1236 810.9L1231.6 815.3L1227.2 810.9Z" fill="#fff" stroke="#000" stroke-width="1.3" stroke-linejoin="miter"/>
<path d="M1251.9 813.2L1256.3 817.6L1251.9 822L1247.5 817.6Z" fill="#fff" stroke="#000" stroke-width="1.3" stroke-linejoin="miter"/>
<path d="M1285.9 819.5L1290.3 823.9L1285.9 828.3L1281.5 823.9Z" fill="#fff" stroke="#000" stroke-width="1.3" stroke-linejoin="miter"/>
<path d="M1306.3 814.2L1310.7 818.6L1306.3 823L1301.9 818.6Z" fill="#fff" stroke="#000" stroke-width="1.3" stroke-linejoin="miter"/>
<path d="M1326.9 817.6L1331.3 822L1326.9 826.4L1322.5 822Z" fill="#fff" stroke="#000" stroke-width="1.3" stroke-linejoin="miter"/>
<rect x="1418.7" y="556.5" width="8.8" height="8.8" fill="#000"/>
<rect x="1436.9" y="557.2" width="8.8" height="8.8" fill="#000"/>
<rect x="1427.7" y="570" width="8.8" height="8.8" fill="#000"/>
<rect x="1482.2" y="814" width="8.8" height="8.8" fill="#000"/>
<rect x="1502.5" y="810.1" width="8.8" height="8.8" fill="#000"/>
<rect x="1522.7" y="812.1" width="8.8" height="8.8" fill="#000"/>
<circle cx="1632.3" cy="541.6" r="4.7" fill="#000"/>
<circle cx="1632.3" cy="554.4" r="4.7" fill="#000"/>
<circle cx="1632.3" cy="577.9" r="4.7" fill="#000"/>
<circle cx="1687.2" cy="818.7" r="4.7" fill="#000"/>
<circle cx="1707.6" cy="814.4" r="4.7" fill="#000"/>
<circle cx="1727.9" cy="816.2" r="4.7" fill="#000"/>
<line x1="1430.4" y1="545.6" x2="1504.4" y2="545.6" stroke="#000" stroke-width="1.9" stroke-linecap="butt"/>
<text class="ss b" font-size="28" stroke="#000" stroke-width="0.15" stroke-linejoin="round" transform="translate(1446.31 551.7)">****</text>
<line x1="1631" y1="530.1" x2="1704.8" y2="530.1" stroke="#000" stroke-width="1.9" stroke-linecap="butt"/>
<text class="ss b" font-size="28" stroke="#000" stroke-width="0.15" stroke-linejoin="round" transform="translate(1646.81 536.2)">****</text>
<path d="M1778 543.8L1782.7 548.5L1778 553.2L1773.3 548.5Z" fill="#fff" stroke="#000" stroke-width="1.4" stroke-linejoin="miter"/>
<text class="ss n" font-size="26.3" stroke="#000" stroke-width="0.4" stroke-linejoin="round" transform="translate(1811.86 557.1) scale(0.9460 1)">Glc free</text>
<rect x="1773.3" y="579.1" width="9.4" height="9.4" fill="#000"/>
<text class="ss n" font-size="26.3" stroke="#000" stroke-width="0.4" stroke-linejoin="round" transform="translate(1811.86 592.4) scale(0.9460 1)">Glc 5.5mM</text>
<circle cx="1778" cy="619.1" r="4.7" fill="#000"/>
<text class="ss n" font-size="26.3" stroke="#000" stroke-width="0.4" stroke-linejoin="round" transform="translate(1811.86 627.7) scale(0.9460 1)">2% starch / AMG</text>
</svg>
</body>
</html>
